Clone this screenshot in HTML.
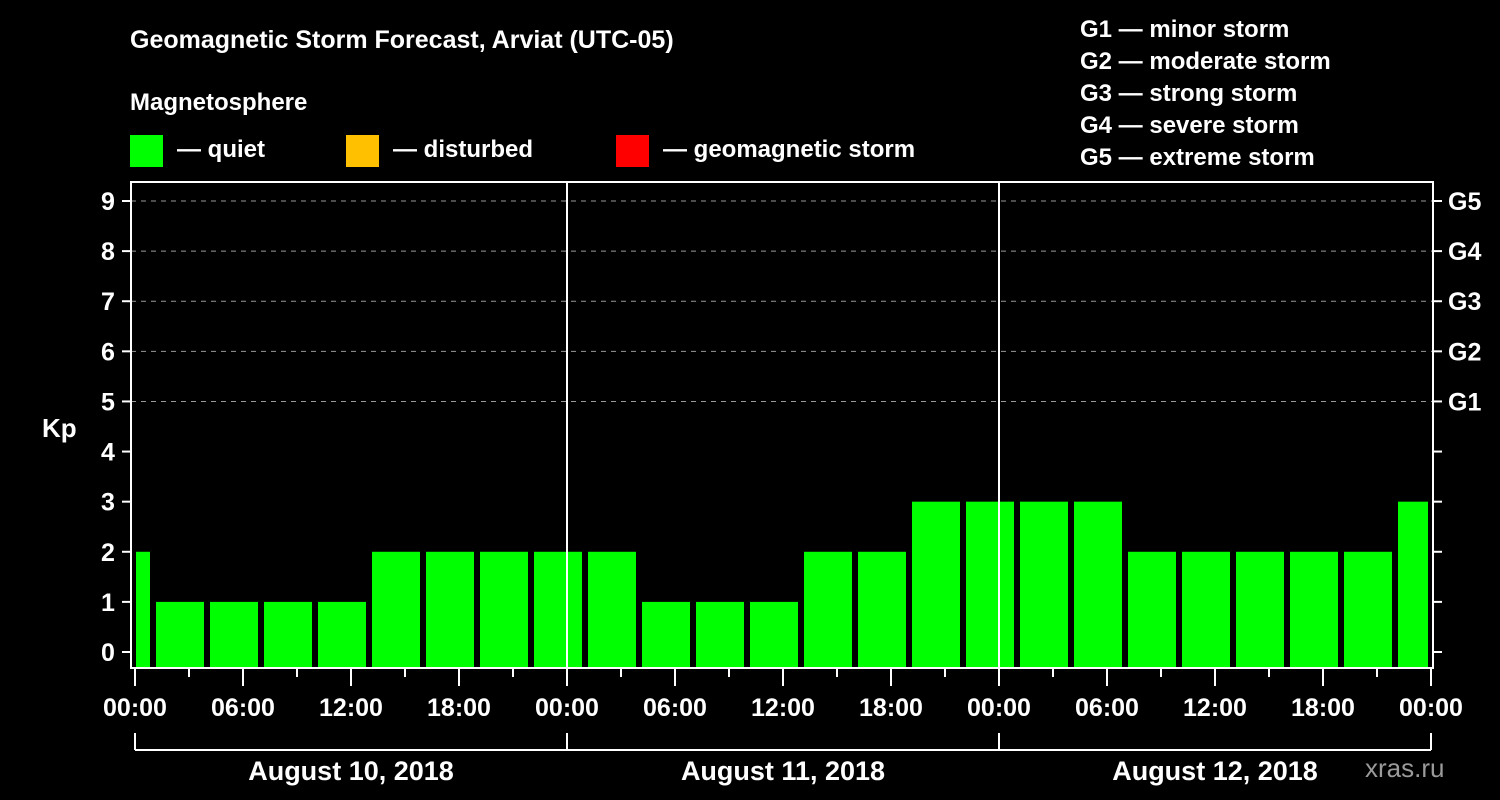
<!DOCTYPE html>
<html><head><meta charset="utf-8"><style>
body{margin:0;background:#000;width:1500px;height:800px;overflow:hidden}
svg{display:block}
text{font-family:"Liberation Sans",Arial,sans-serif;font-weight:bold;fill:#fff}
</style></head><body>
<svg id="c" width="1500" height="800">
<text x="130" y="48" font-size="25">Geomagnetic Storm Forecast, Arviat (UTC-05)</text>
<text x="130" y="110" font-size="24">Magnetosphere</text>
<g><rect x="130" y="135" width="33" height="32" fill="#00ff00"/><text x="177" y="157" font-size="24">— quiet</text></g>
<g><rect x="346" y="135" width="33" height="32" fill="#ffc000"/><text x="393" y="157" font-size="24">— disturbed</text></g>
<g><rect x="616" y="135" width="33" height="32" fill="#ff0000"/><text x="663" y="157" font-size="24">— geomagnetic storm</text></g>
<g font-size="24">
<text x="1080" y="37">G1 — minor storm</text><text x="1080" y="69">G2 — moderate storm</text><text x="1080" y="101">G3 — strong storm</text><text x="1080" y="133">G4 — severe storm</text><text x="1080" y="165">G5 — extreme storm</text></g>
<text x="42" y="437" font-size="26">Kp</text>
<text x="1365" y="777" font-size="26" fill="#999" style="fill:#9a9a9a;font-weight:normal">xras.ru</text>
<g id="g"></g>
</svg>
<script>
const kpValues=[2,1,1,1,1,2,2,2,2,2,1,1,1,2,2,3,3,3,3,2,2,2,2,2,3];
const barStartHours=[-2,1,4,7,10,13,16,19,22,25,28,31,34,37,40,43,46,49,52,55,58,61,64,67,70];
const yTicks=[0,1,2,3,4,5,6,7,8,9];
const gLabels=["G1","G2","G3","G4","G5"];
const gLevels=[5,6,7,8,9];
const xTickLabels=["00:00","06:00","12:00","18:00","00:00","06:00","12:00","18:00","00:00","06:00","12:00","18:00","00:00"];
const dayLabels=["August 10, 2018","August 11, 2018","August 12, 2018"];
const L=131,R=1433,T=182,B=668;
const x=h=>135+h*(1431-135)/72;
const y=v=>652-v*(652-201)/9;
const g=document.getElementById('g');
const NS="http://www.w3.org/2000/svg";
function el(t,a){const e=document.createElementNS(NS,t);for(const k in a)e.setAttribute(k,a[k]);g.appendChild(e);return e;}
yTicks.forEach(v=>{
 if(v>=5){const d=el('line',{x1:L,x2:R,y1:y(v),y2:y(v),stroke:'#999','stroke-dasharray':'5,5','stroke-width':1});
 
 }
 el('line',{x1:122,x2:L,y1:y(v),y2:y(v),stroke:'#fff','stroke-width':2});
 el('line',{x1:R,x2:1442,y1:y(v),y2:y(v),stroke:'#fff','stroke-width':2});
 const t=el('text',{x:108,y:y(v)+9,'font-size':25,'text-anchor':'middle'});t.textContent=v;
 
 
});
gLabels.forEach((s,i)=>{const t=el('text',{x:1448,y:y(gLevels[i])+9,'font-size':25});t.textContent=s;
 
 });
kpValues.forEach((v,i)=>{
 const h0=Math.max(0,barStartHours[i]),h1=Math.min(72,barStartHours[i]+3);
 let x0=x(h0)+(barStartHours[i]>=0?3:1),x1=x(h1)-(barStartHours[i]+3<=72?3:3);
 if(barStartHours[i]<0)x1=x(h1)-3;
 const r=el('rect',{x:x0,y:y(v),width:x1-x0,height:B-y(v),fill:v>=5?'#ff0000':v>=4?'#ffc000':'#00ff00'});
 
 
});
[24,48].forEach(h=>{const d=el('line',{x1:x(h),x2:x(h),y1:T,y2:B,stroke:'#fff','stroke-width':2});
 
 });
const f=el('rect',{x:L,y:T,width:R-L,height:B-T,fill:'none',stroke:'#fff','stroke-width':2});


for(let h=0;h<=72;h+=3){el('line',{x1:x(h),x2:x(h),y1:B,y2:h%6?677:686,stroke:'#fff','stroke-width':2});}
xTickLabels.forEach((s,i)=>{const t=el('text',{x:x(i*6),y:716,'font-size':25,'text-anchor':'middle'});t.textContent=s;
 
 });
dayLabels.forEach((s,i)=>{
 el('line',{x1:x(i*24),x2:x(i*24+24),y1:750,y2:750,stroke:'#fff','stroke-width':2});
 el('line',{x1:x(i*24),x2:x(i*24),y1:733,y2:750,stroke:'#fff','stroke-width':2});
 el('line',{x1:x(i*24+24),x2:x(i*24+24),y1:733,y2:750,stroke:'#fff','stroke-width':2});
 const t=el('text',{x:x(i*24+12),y:780,'font-size':27,'text-anchor':'middle'});t.textContent=s;
 
 
});
</script>
</body></html>
